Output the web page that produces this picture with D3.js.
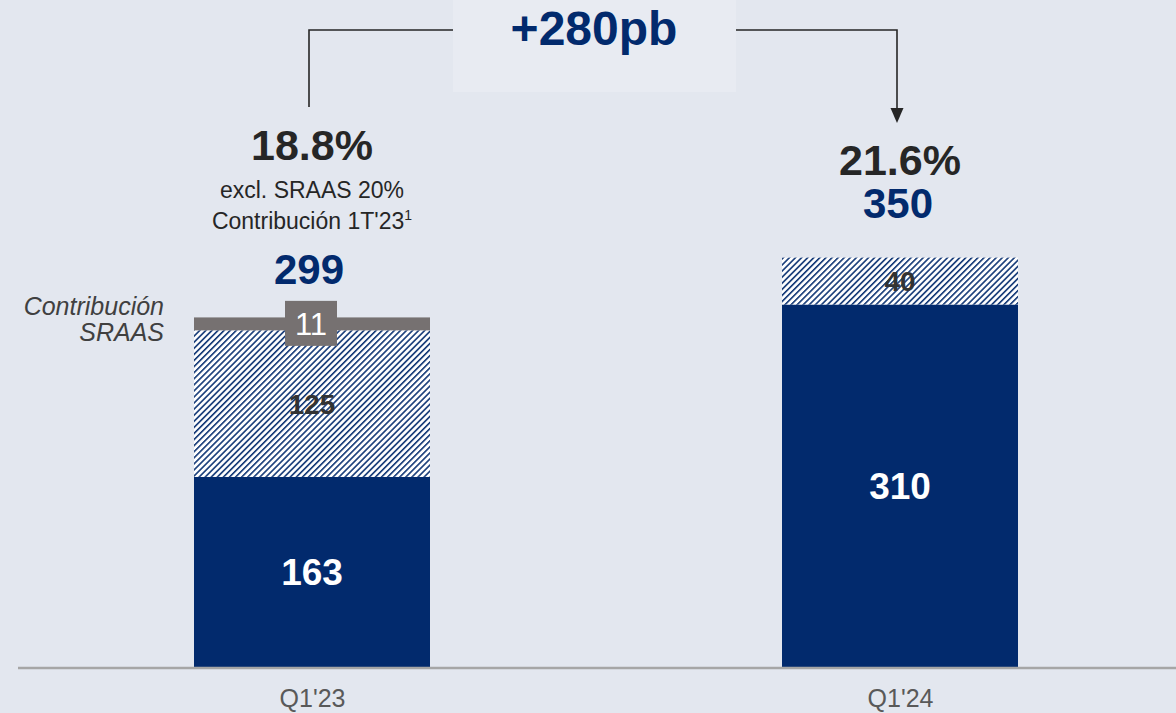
<!DOCTYPE html>
<html lang="es">
<head>
<meta charset="utf-8">
<title>RoTE</title>
<script src="https://cdn.jsdelivr.net/npm/d3@7"></script>
<style>
  html, body { margin: 0; padding: 0; background: #e3e7ef; }
  svg { display: block; font-family: "Liberation Sans", Arial, sans-serif; }
</style>
</head>
<body>
<div id="chart"></div>
<script>
// data
const categories = ["Q1'23", "Q1'24"];
const baseValues = [163, 310];
const hatchValues = [125, 40];
const sraasValues = [11, 0];
const totals = [299, 350];
const ratioLabels = ["18.8%", "21.6%"];
const deltaLabel = "+280pb";

const width = 1176, height = 713;
const navy = "#022a6d";
const dark = "#262626";

const svg = d3.select("#chart").append("svg")
    .attr("width", width)
    .attr("height", height);

const defs = svg.append("defs");
const pat = defs.append("pattern")
    .attr("id", "hatch")
    .attr("patternUnits", "userSpaceOnUse")
    .attr("width", 4.3)
    .attr("height", 4.3)
    .attr("patternTransform", "rotate(45)");
pat.append("rect").attr("width", 4.3).attr("height", 4.3).attr("fill", "#ffffff");
pat.append("line")
    .attr("x1", 0.8).attr("y1", 0).attr("x2", 0.8).attr("y2", 4.3)
    .attr("stroke", navy).attr("stroke-width", 1.5);

const x = d3.scalePoint().domain(categories).range([312, 900]);
const y = d3.scaleLinear().domain([0, 400]).range([668, 199]);
const barW = 236;

const rows = categories.map((c, i) => ({
    cat: c, base: baseValues[i], hatch: hatchValues[i], sraas: sraasValues[i],
    total: totals[i], ratio: ratioLabels[i]
}));

// base segment
svg.selectAll("rect.base").data(rows).enter().append("rect")
    .attr("class", "base")
    .attr("x", d => x(d.cat) - barW / 2)
    .attr("y", d => y(d.base))
    .attr("width", barW)
    .attr("height", d => y(0) - y(d.base))
    .attr("fill", navy);

// hatched segment
svg.selectAll("rect.hatch").data(rows).enter().append("rect")
    .attr("class", "hatch")
    .attr("x", d => x(d.cat) - barW / 2)
    .attr("y", d => y(d.base + d.hatch))
    .attr("width", barW)
    .attr("height", d => y(d.base) - y(d.base + d.hatch))
    .attr("fill", "url(#hatch)");

// SRAAS segment
const sr = rows.filter(d => d.sraas > 0);
svg.selectAll("rect.sraas").data(sr).enter().append("rect")
    .attr("class", "sraas")
    .attr("x", d => x(d.cat) - barW / 2)
    .attr("y", d => y(d.base + d.hatch + d.sraas))
    .attr("width", barW)
    .attr("height", d => y(d.base + d.hatch) - y(d.base + d.hatch + d.sraas))
    .attr("fill", "#767171");

svg.selectAll("rect.sraasBox").data(sr).enter().append("rect")
    .attr("x", d => x(d.cat) - 27)
    .attr("y", d => y(d.base + d.hatch + d.sraas / 2) - 23)
    .attr("width", 52)
    .attr("height", 45)
    .attr("fill", "#767171");
svg.selectAll("text.sraas").data(sr).enter().append("text")
    .attr("x", d => x(d.cat) - 1)
    .attr("y", d => y(d.base + d.hatch + d.sraas / 2) + 11)
    .attr("text-anchor", "middle")
    .attr("font-size", 31)
    .attr("fill", "#ffffff")
    .text(d => d.sraas);

// segment labels
svg.selectAll("text.base").data(rows).enter().append("text")
    .attr("x", d => x(d.cat))
    .attr("y", d => y(d.base / 2) + 13)
    .attr("text-anchor", "middle")
    .attr("font-size", 37).attr("font-weight", "bold")
    .attr("fill", "#ffffff")
    .text(d => d.base);

svg.selectAll("text.hatch").data(rows).enter().append("text")
    .attr("x", d => x(d.cat))
    .attr("y", d => y(d.base + d.hatch / 2) + 10)
    .attr("text-anchor", "middle")
    .attr("font-size", 28).attr("font-weight", "bold")
    .attr("fill", "#333333")
    .text(d => d.hatch);

// totals
svg.selectAll("text.total").data(rows).enter().append("text")
    .attr("x", (d, i) => x(d.cat) - (i === 0 ? 3 : 2))
    .attr("y", (d, i) => y(d.total) - (i === 0 ? 33 : 40))
    .attr("text-anchor", "middle")
    .attr("font-size", 42).attr("font-weight", "bold")
    .attr("fill", navy)
    .text(d => d.total);

// ratio labels
svg.append("text")
    .attr("x", x(categories[0])).attr("y", 160)
    .attr("text-anchor", "middle")
    .attr("font-size", 43).attr("font-weight", "bold").attr("fill", dark)
    .text(ratioLabels[0]);
svg.append("text")
    .attr("x", x(categories[0])).attr("y", 198)
    .attr("text-anchor", "middle")
    .attr("font-size", 23).attr("fill", dark)
    .text("excl. SRAAS 20%");
const sub = svg.append("text")
    .attr("x", x(categories[0])).attr("y", 229)
    .attr("text-anchor", "middle")
    .attr("font-size", 23).attr("fill", dark);
sub.append("tspan").text("Contribución 1T'23");
sub.append("tspan").attr("font-size", 14).attr("dy", -9).text("1");

svg.append("text")
    .attr("x", x(categories[1])).attr("y", 175)
    .attr("text-anchor", "middle")
    .attr("font-size", 43).attr("font-weight", "bold").attr("fill", dark)
    .text(ratioLabels[1]);

// side label
svg.append("text")
    .attr("x", 164).attr("y", 315)
    .attr("text-anchor", "end")
    .attr("font-size", 25).attr("font-style", "italic")
    .attr("fill", "#404040")
    .text("Contribución");
svg.append("text")
    .attr("x", 164).attr("y", 341)
    .attr("text-anchor", "end")
    .attr("font-size", 25).attr("font-style", "italic")
    .attr("fill", "#404040")
    .text("SRAAS");

// delta box and bracket
svg.append("rect")
    .attr("x", 453).attr("y", 0).attr("width", 283).attr("height", 92)
    .attr("fill", "#e8ebf2");
svg.append("text")
    .attr("x", 594).attr("y", 45)
    .attr("text-anchor", "middle")
    .attr("font-size", 48).attr("font-weight", "bold").attr("fill", navy)
    .text(deltaLabel);

svg.append("path")
    .attr("d", "M309,107V30H453")
    .attr("fill", "none").attr("stroke", dark).attr("stroke-width", 1.6);
svg.append("path")
    .attr("d", "M736,30H897V110")
    .attr("fill", "none").attr("stroke", dark).attr("stroke-width", 1.6);
svg.append("path")
    .attr("d", "M890.5,108L903.5,108L897,123Z")
    .attr("fill", dark);

// axis
const axis = svg.append("g")
    .attr("transform", "translate(0,668)")
    .call(d3.axisBottom(x).tickSize(0).tickPadding(0));
axis.select(".domain")
    .attr("d", "M18,0H1176")
    .attr("stroke", "#a6a6a6").attr("stroke-width", 2.5);
axis.selectAll(".tick text")
    .attr("dy", 0).attr("y", 39)
    .attr("font-family", "'Liberation Sans', sans-serif")
    .attr("font-size", 25)
    .attr("fill", "#595959");
</script>
</body>
</html>
